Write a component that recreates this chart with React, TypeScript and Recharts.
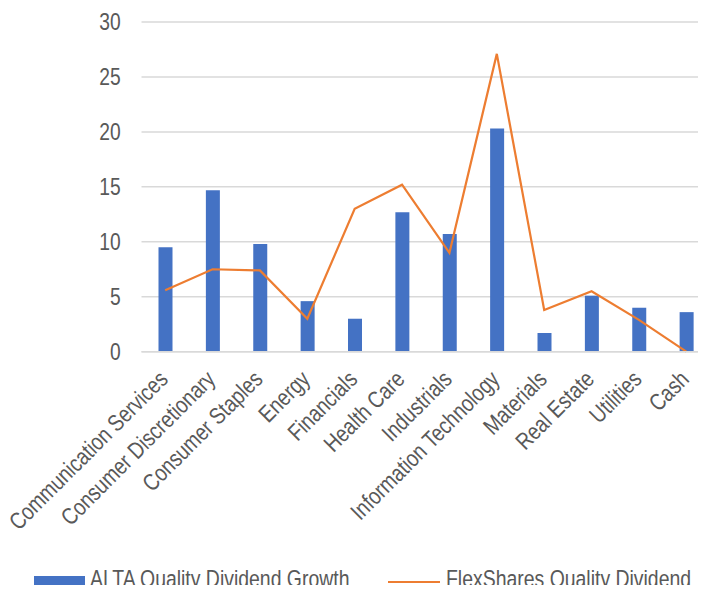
import { ComposedChart, Bar, Line, XAxis, YAxis, CartesianGrid, Legend } from 'recharts';

const sectors = [
  'Communication Services',
  'Consumer Discretionary',
  'Consumer Staples',
  'Energy',
  'Financials',
  'Health Care',
  'Industrials',
  'Information Technology',
  'Materials',
  'Real Estate',
  'Utilities',
  'Cash',
];
const altaWeights = [9.5, 14.7, 9.8, 4.6, 3.0, 12.7, 10.7, 20.3, 1.7, 5.1, 4.0, 3.6];
const flexWeights = [5.6, 7.5, 7.4, 3.0, 13.0, 15.2, 9.0, 27.1, 3.8, 5.5, 2.9, 0];
const yTicks = [0, 5, 10, 15, 20, 25, 30];

const data = sectors.map((name, i) => ({
  name,
  alta: altaWeights[i],
  flex: flexWeights[i],
}));

const FONT = '"Liberation Sans", Arial, sans-serif';
const TEXT = '#595959';
// the original uses a narrow face, so squeeze the regular one
const NARROW = 0.82;

function SectorTick({ x, y, payload }: any) {
  const ax = x + 4;
  const ay = y + 29;
  return (
    <text
      transform={`translate(${ax}, ${ay}) rotate(-45) scale(${NARROW}, 1)`}
      textAnchor="end"
      fill={TEXT}
      fontSize={23.5}
      fontFamily={FONT}
    >
      {payload.value}
    </text>
  );
}

function ValueTick({ x, y, payload }: any) {
  return (
    <text
      transform={`translate(${x}, ${y}) scale(${NARROW}, 1)`}
      textAnchor="end"
      dy="0.35em"
      fill={TEXT}
      fontSize={23.5}
      fontFamily={FONT}
    >
      {payload.value}
    </text>
  );
}

function ChartLegend() {
  const label = {
    position: 'absolute' as const,
    top: -1.5,
    lineHeight: 1,
    whiteSpace: 'nowrap' as const,
    transform: `scaleX(${NARROW})`,
    transformOrigin: 'left center',
  };
  return (
    <div style={{ position: 'relative', width: 706, height: 24, fontFamily: FONT, fontSize: 23.7, color: TEXT }}>
      <div style={{ position: 'absolute', left: 34, top: 7, width: 51, height: 10.5, background: '#4472C4' }} />
      <span style={{ ...label, left: 90 }}>ALTA Quality Dividend Growth</span>
      <div style={{ position: 'absolute', left: 388, top: 11.5, width: 52, height: 2.4, background: '#ED7D31' }} />
      <span style={{ ...label, left: 446 }}>FlexShares Quality Dividend</span>
    </div>
  );
}

export default function App() {
  return (
    <div style={{ margin: -8, width: 706, height: 593, overflow: 'hidden', background: '#fff' }}>
      <ComposedChart width={720} height={593} data={data} margin={{ top: 22, right: 10, left: 0, bottom: 0 }}>
        <CartesianGrid vertical={false} stroke="#D9D9D9" strokeWidth={1.5} />
        <XAxis
          dataKey="name"
          interval={0}
          height={217.3}
          axisLine={{ stroke: '#D9D9D9', strokeWidth: 1.5 }}
          tickLine={false}
          tickSize={0}
          tickMargin={0}
          tick={<SectorTick />}
        />
        <YAxis
          width={141.5}
          domain={[0, 30]}
          ticks={yTicks}
          axisLine={false}
          tickLine={false}
          tickSize={0}
          tickMargin={20.8}
          tick={<ValueTick />}
        />
        <Bar dataKey="alta" name="ALTA Quality Dividend Growth" fill="#4472C4" barSize={14} isAnimationActive={false} />
        <Line
          dataKey="flex"
          name="FlexShares Quality Dividend"
          stroke="#ED7D31"
          strokeWidth={2.2}
          dot={false}
          type="linear"
          isAnimationActive={false}
        />
        <Legend verticalAlign="bottom" wrapperStyle={{ left: 0, width: 706 }} content={<ChartLegend />} />
      </ComposedChart>
    </div>
  );
}
